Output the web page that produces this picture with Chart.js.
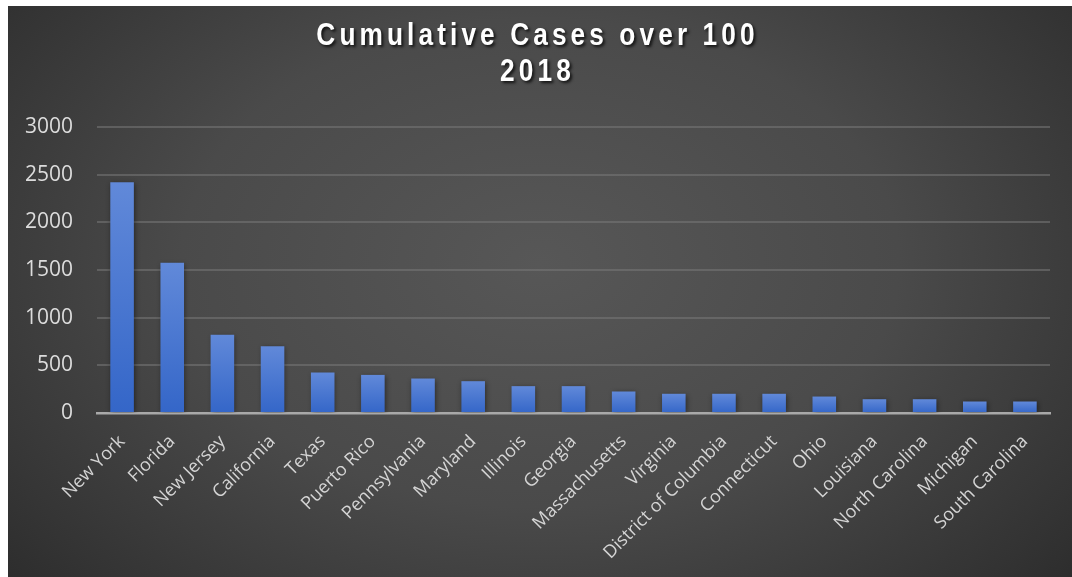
<!DOCTYPE html>
<html>
<head>
<meta charset="utf-8">
<script src="https://cdn.jsdelivr.net/npm/chart.js@4/dist/chart.umd.min.js"></script>
<style>
  html, body { margin: 0; padding: 0; background: #ffffff; }
  #wrap {
    position: absolute; left: 8px; top: 6px; width: 1064px; height: 571px;
    background: radial-gradient(ellipse 75% 95% at 50% 45%, #575757 0%, #4a4a4a 45%, #333333 80%, #252525 100%);
  }
  canvas { display: block; }
</style>
</head>
<body>
<div id="wrap"><canvas id="c" width="1064" height="571"></canvas></div>
<script>
const titleLines = ["Cumulative Cases over 100", "2018"];
const categories = ["New York","Florida","New Jersey","California","Texas","Puerto Rico","Pennsylvania","Maryland","Illinois","Georgia","Massachusetts","Virginia","District of Columbia","Connecticut","Ohio","Louisiana","North Carolina","Michigan","South Carolina"];
const cases = [2420,1575,820,700,425,400,362,334,282,282,226,202,202,202,173,145,145,121,121];
const yMin = 0, yMax = 3000, yStep = 500;

function barGradient(c) {
  const chart = c.chart;
  if (!chart.chartArea || c.dataIndex === undefined) return '#4472c4';
  const ys = chart.scales.y;
  const v = cases[c.dataIndex];
  const top = ys.getPixelForValue(v), bot = ys.getPixelForValue(0);
  const g = chart.ctx.createLinearGradient(0, top, 0, bot);
  g.addColorStop(0, '#6189d9');
  g.addColorStop(1, '#3466c8');
  return g;
}

const fxPlugin = {
  id: 'fx',
  afterInit(chart) {
    const tb = chart.titleBlock;
    if (tb) {
      const orig = tb.draw.bind(tb);
      tb.draw = function() {
        const ctx = chart.ctx;
        const cx = (tb.left + tb.right) / 2;
        ctx.save();
        ctx.translate(cx, 0);
        ctx.scale(0.82, 1);
        ctx.translate(-cx, 0);
        ctx.letterSpacing = '5px';
        ctx.shadowColor = 'rgba(0,0,0,0.75)';
        ctx.shadowOffsetX = 2; ctx.shadowOffsetY = 2; ctx.shadowBlur = 3;
        orig();
        ctx.restore();
      };
    }
  },
  beforeDatasetsDraw(chart) {
    const ctx = chart.ctx;
    ctx.save();
    ctx.shadowColor = 'rgba(0,0,0,0.45)';
    ctx.shadowBlur = 5;
    ctx.shadowOffsetX = 1; ctx.shadowOffsetY = 1;
  },
  afterDatasetsDraw(chart) { chart.ctx.restore(); }
};

new Chart(document.getElementById('c'), {
  type: 'bar',
  data: {
    labels: categories,
    datasets: [{
      label: 'Cumulative Cases',
      data: cases,
      backgroundColor: barGradient,
      borderWidth: 0,
      barPercentage: 0.47,
      categoryPercentage: 1.0
    }]
  },
  options: {
    responsive: false,
    animation: false,
    layout: { padding: { left: 17, right: 22, top: 4, bottom: 2 } },
    plugins: {
      legend: { display: false },
      tooltip: { enabled: false },
      title: {
        display: true,
        text: titleLines,
        color: '#ffffff',
        font: { family: "'Liberation Sans', Arial, sans-serif", size: 32, weight: 'bold', lineHeight: 1.125 },
        padding: { top: 8, bottom: 37 }
      }
    },
    scales: {
      x: {
        grid: { display: false, drawTicks: false },
        border: { display: true, color: '#a9a9a9', width: 2.5 },
        ticks: {
          color: '#d4d4d4',
          font: { family: "'Open Sans', sans-serif", size: 18 },
          minRotation: 45, maxRotation: 45,
          autoSkip: false,
          padding: 18
        },
        afterFit(scale) {
          scale.paddingLeft = 0;
          scale.paddingRight = 0;
          scale.height = scale.height - 6.5;
        }
      },
      y: {
        min: yMin, max: yMax,
        grid: {
          drawTicks: false,
          color: (c) => c.tick && c.tick.value === 0 ? '#a9a9a9' : 'rgba(120,120,120,0.55)',
          lineWidth: 2
        },
        border: { display: false },
        ticks: {
          stepSize: yStep,
          color: '#dcdcdc',
          font: { family: "'Open Sans', sans-serif", size: 21 },
          padding: 24,
          callback: (v) => String(v)
        },
        afterFit(scale) {
          scale.width = 72;
        }
      }
    }
  },
  plugins: [fxPlugin]
});
</script>
</body>
</html>
